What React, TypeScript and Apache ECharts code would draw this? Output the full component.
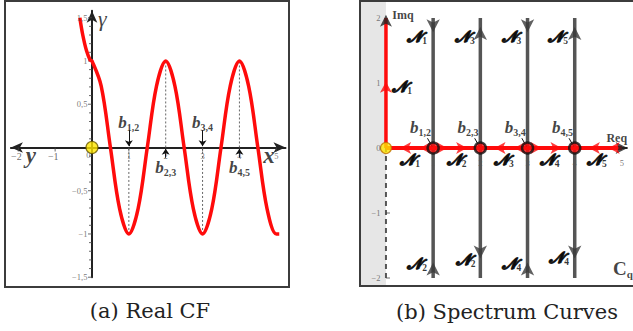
import React, { useEffect, useRef } from 'react';
import * as echarts from 'echarts';

// ---------- Panel (a): Real CF ----------
const curveX = [-0.33, -0.25, -0.15, -0.05, 0, 0.25, 0.5, 0.75, 1, 1.25, 1.5, 1.75, 2, 2.25, 2.5, 2.75, 3, 3.25, 3.5, 3.75, 4, 4.25, 4.5, 4.75, 5, 5.08];
const curveY = [1.5, 1.3, 1.12, 1.01, 1, 0.71, 0, -0.71, -1, -0.71, 0, 0.71, 1, 0.71, 0, -0.71, -1, -0.71, 0, 0.71, 1, 0.71, 0, -0.71, -1, -1];
const xTicksA = [-2, -1, 1, 2, 3, 4, 5];
const xTickLabelsA = ['−2', '−1', '1', '2', '3', '4', '5'];
const yTicksA = [1.5, 1, 0.5, -0.5, -1, -1.5];
const yTickLabelsA = ['1,5', '1', '0,5', '−0,5', '−1', '−1,5'];
const yMinorA = [1.4, 1.3, 1.2, 1.1, 0.9, 0.8, 0.7, 0.6, 0.4, 0.3, 0.2, 0.1, -0.1, -0.2, -0.3, -0.4, -0.6, -0.7, -0.8, -0.9, -1.1, -1.2, -1.3, -1.4];
const dotX = [1, 2, 3, 4];
const dotFrom = [-1, 0, -1, 0];
const dotTo = [0, 1, 0, 1];
const bNames = ['1,2', '2,3', '3,4', '4,5'];
const bArrowFrom = [0.2, -0.12, 0.2, -0.12];
const bArrowTo = [0.015, -0.015, 0.015, -0.015];
const bLabelYA = [0.29, -0.23, 0.29, -0.23];

// ---------- Panel (b): Spectrum Curves ----------
const vLineX = [1, 2, 3, 4];
const topArrowY = [1.78, 1.86, 1.78, 1.86];
const topArrowDir = ['down', 'up', 'down', 'up'];
const botArrowY = [-1.76, -1.7, -1.76, -1.7];
const botArrowDir = ['up', 'down', 'up', 'down'];
const segStart = [0, 1, 2, 3, 4];
const segDir = ['left', 'right', 'left', 'right', 'left'];
const nodeX = [1, 2, 3, 4];
const topN = ['1', '3', '3', '5'];
const topNX = [0.66, 1.67, 2.66, 3.65];
const botN = ['2', '2', '4', '4'];
const botNX = [0.66, 1.69, 2.66, 3.67];
const botNY = [-1.78, -1.71, -1.78, -1.68];
const axisN = ['1', '2', '3', '4', '5'];
const axisNX = [0.51, 1.5, 2.5, 3.47, 4.47];
const bLabelXB = [0.73, 1.74, 2.74, 3.74];
const yTicksB = [2, 1, 0, -1, -2];
const yTickLabelsB = ['2', '1', '0', '−1', '−2'];
const xTicksB = [1, 2, 3, 4, 5];

const RED = '#ff0b0b';
const SERIF = 'Liberation Serif';

const RICH: any = {
  b: { fontFamily: SERIF, fontStyle: 'italic', fontWeight: 'bold', fontSize: 17, color: '#111', lineHeight: 20 },
  bs: { fontFamily: SERIF, fontWeight: 'bold', fontSize: 10, color: '#111', verticalAlign: 'bottom', lineHeight: 12 },
  n: { fontFamily: 'DejaVu Serif', fontStyle: 'italic', fontWeight: 'bold', fontSize: 16, color: '#000', lineHeight: 19, textBorderColor: '#000', textBorderWidth: 1.1 },
  ns: { fontFamily: SERIF, fontWeight: 'bold', fontSize: 9.5, color: '#000', verticalAlign: 'bottom', lineHeight: 11 },
  g: { fontFamily: SERIF, fontStyle: 'italic', fontSize: 22, color: '#111' },
  xy: { fontFamily: SERIF, fontStyle: 'italic', fontWeight: 'bold', fontSize: 23, color: '#111' },
  lab: { fontFamily: SERIF, fontWeight: 'bold', fontSize: 12, color: '#111' },
  c: { fontFamily: SERIF, fontWeight: 'bold', fontSize: 19, color: '#111', lineHeight: 22 },
  cs: { fontFamily: SERIF, fontWeight: 'bold', fontSize: 11, color: '#111', verticalAlign: 'bottom', lineHeight: 13 },
  tk: { fontFamily: SERIF, fontSize: 10, color: '#444' },
  tks: { fontFamily: SERIF, fontSize: 8.5, color: '#555' },
};

const N = (s: string) => `{n|𝒩}{ns|${s}}`;

function seg(gi: number, coords: number[][], lineStyle: any, z = 3) {
  return { type: 'line', xAxisIndex: gi, yAxisIndex: gi, data: coords, symbol: 'none', silent: true, z, lineStyle };
}

function texts(gi: number, items: { x: number; y: number; t: string; pos?: string; dist?: number }[]) {
  return {
    type: 'scatter', xAxisIndex: gi, yAxisIndex: gi, symbolSize: 1, silent: true, z: 30,
    itemStyle: { color: 'rgba(0,0,0,0)' },
    data: items.map((it) => ({
      value: [it.x, it.y],
      label: { show: true, position: it.pos || 'inside', distance: it.dist ?? 5, formatter: it.t, rich: RICH },
    })),
  };
}

function ticks(gi: number, pts: number[][], size: number[], offset: number[]) {
  return {
    type: 'scatter', xAxisIndex: gi, yAxisIndex: gi, silent: true, z: 4, symbol: 'rect',
    symbolSize: size, symbolOffset: offset, itemStyle: { color: '#444' }, data: pts,
  };
}

const rot = (d: string) => (d === 'up' ? 0 : d === 'down' ? 180 : d === 'left' ? 90 : -90);

function buildOption(): any {
  const series: any[] = [];

  // ---- panel a ----
  dotX.forEach((x, i) => {
    series.push(seg(0, [[x, dotFrom[i]], [x, dotTo[i]]], { color: '#666', width: 1, type: [2, 2] }, 2));
  });
  series.push(ticks(0, xTicksA.map((x) => [x, 0]), [1, 4], [0, 2]));
  series.push(ticks(0, yTicksA.map((y) => [0, y]), [4, 1], [-2, 0]));
  series.push(ticks(0, yMinorA.map((y) => [0, y]), [3, 1], [-1.5, 0]));
  series.push({
    type: 'line', xAxisIndex: 0, yAxisIndex: 0, smooth: 0.35, symbol: 'none', silent: true, z: 5,
    lineStyle: { color: RED, width: 3.5 },
    data: curveX.map((x, i) => [x, curveY[i]]),
  });
  series.push({
    type: 'lines', coordinateSystem: 'cartesian2d', xAxisIndex: 0, yAxisIndex: 0, silent: true, z: 6,
    symbol: ['none', 'arrow'], symbolSize: 6,
    lineStyle: { color: '#111', width: 1, opacity: 1 },
    data: dotX.map((x, i) => ({ coords: [[x, bArrowFrom[i]], [x, bArrowTo[i]]] })),
  });
  series.push({
    type: 'scatter', xAxisIndex: 0, yAxisIndex: 0, silent: true, z: 10, symbol: 'circle', symbolSize: 12,
    itemStyle: { color: '#ffe600', borderColor: '#6a5a00', borderWidth: 1.2 },
    data: [[0, 0]],
  });
  series.push(texts(0, [
    { x: 0.28, y: 1.49, t: '{g|γ}' },
    { x: 4.8, y: -0.09, t: '{xy|x}' },
    { x: -1.66, y: -0.09, t: '{xy|y}' },
    ...dotX.map((x, i) => ({ x, y: bLabelYA[i], t: `{b|b}{bs|${bNames[i]}}` })),
    ...xTicksA.map((x, i) => ({ x: x < 0 ? x - 0.05 : x, y: 0, t: x < 0 ? `{tk|${xTickLabelsA[i]}}` : `{tks|${xTickLabelsA[i]}}`, pos: 'bottom', dist: 4 })),
    { x: -0.1, y: 0, t: '{tks|0}', pos: 'bottom', dist: 3 },
    ...yTicksA.map((y, i) => ({ x: 0, y, t: `{tks|${yTickLabelsA[i]}}`, pos: 'left', dist: 4 })),
  ]));

  // ---- panel b ----
  series.push({
    type: 'line', xAxisIndex: 1, yAxisIndex: 1, data: [], silent: true,
    markArea: { silent: true, itemStyle: { color: '#e6e6e6' }, data: [[{ coord: [-0.55, -2.12] }, { coord: [0, 2.25] }]] },
  });
  vLineX.forEach((x) => {
    series.push(seg(1, [[x, -2], [x, 2]], { color: '#555', width: 3.5 }, 3));
  });
  series.push({
    type: 'scatter', xAxisIndex: 1, yAxisIndex: 1, silent: true, z: 4, symbol: 'arrow', symbolSize: [10, 13],
    itemStyle: { color: '#3a3a3a' },
    data: [
      ...vLineX.map((x, i) => ({ value: [x, topArrowY[i]], symbolRotate: rot(topArrowDir[i]) })),
      ...vLineX.map((x, i) => ({ value: [x, botArrowY[i]], symbolRotate: rot(botArrowDir[i]) })),
    ],
  });
  // axes of panel b
  series.push(seg(1, [[0, -2], [0, 0]], { color: '#555', width: 2, type: [5, 4] }, 3));
  series.push(ticks(1, [[0, -1], [0, -2]], [4, 1], [2, 0]));
  series.push(seg(1, [[0, 0], [5.12, 0]], { color: '#222', width: 2 }, 3));
  series.push({
    type: 'scatter', xAxisIndex: 1, yAxisIndex: 1, silent: true, z: 6, symbol: 'arrow', symbolSize: [9, 12],
    itemStyle: { color: '#222' },
    data: [{ value: [5.12, 0], symbolRotate: -90 }, { value: [0, 2.05], symbolRotate: 0 }],
  });
  series.push(seg(1, [[0, 0], [0, 2.0]], { color: RED, width: 3.5 }, 5));
  series.push(seg(1, [[0, 0], [5.0, 0]], { color: RED, width: 4 }, 5));
  series.push({
    type: 'scatter', xAxisIndex: 1, yAxisIndex: 1, silent: true, z: 6, symbol: 'arrow', symbolSize: [9, 11],
    itemStyle: { color: RED },
    data: [
      ...segStart.flatMap((s, i) => [
        { value: [s + 0.3, 0], symbolRotate: rot(segDir[i]) },
        { value: [s + 0.72, 0], symbolRotate: rot(segDir[i]) },
      ]),
      { value: [0, 1.02], symbolRotate: 0 },
    ],
  });
  series.push({
    type: 'lines', coordinateSystem: 'cartesian2d', xAxisIndex: 1, yAxisIndex: 1, silent: true, z: 6,
    symbol: 'none', lineStyle: { color: '#111', width: 1, opacity: 1 },
    data: nodeX.map((x) => ({ coords: [[x - 0.12, 0.15], [x - 0.02, 0.02]] })),
  });
  series.push({
    type: 'scatter', xAxisIndex: 1, yAxisIndex: 1, silent: true, z: 8, symbol: 'circle', symbolSize: 11,
    itemStyle: { color: RED, borderColor: '#111', borderWidth: 2.5 },
    data: nodeX.map((x) => [x, 0]),
  });
  series.push({
    type: 'scatter', xAxisIndex: 1, yAxisIndex: 1, silent: true, z: 9, symbol: 'circle', symbolSize: 11,
    itemStyle: { color: '#ffe600', borderColor: '#c07000', borderWidth: 1.2 },
    data: [[0, 0]],
  });
  series.push(texts(1, [
    { x: 0.36, y: 2.05, t: '{lab|Imq}' },
    { x: 4.89, y: 0.16, t: '{lab|Req}' },
    { x: 5.02, y: -1.86, t: '{c|C}{cs|q}' },
    { x: 0.34, y: 0.94, t: N('1') },
    ...topN.map((s, i) => ({ x: topNX[i], y: 1.72, t: N(s) })),
    ...botN.map((s, i) => ({ x: botNX[i], y: botNY[i], t: N(s) })),
    ...axisN.map((s, i) => ({ x: axisNX[i], y: -0.17, t: N(s) })),
    ...bLabelXB.map((x, i) => ({ x, y: 0.31, t: `{b|b}{bs|${bNames[i]}}` })),
    ...yTicksB.map((y, i) => ({ x: 0, y, t: `{tks|${yTickLabelsB[i]}}`, pos: 'left', dist: 5 })),
    ...xTicksB.map((x) => ({ x, y: 0, t: `{tks|${x}}`, pos: 'bottom', dist: 10 })),
  ]));

  const hiddenAxis = { type: 'value', splitLine: { show: false }, axisLine: { show: false }, axisTick: { show: false }, axisLabel: { show: false } };

  return {
    animation: false,
    backgroundColor: '#ffffff',
    grid: [
      { left: 10.9, top: 10.8, width: 274.6, height: 266.4 },
      { left: 360, top: 1.75, width: 272.3, height: 284.05 },
    ],
    xAxis: [
      {
        ...hiddenAxis, gridIndex: 0, min: -2.2, max: 5.25,
        axisLine: { show: true, onZero: true, symbol: ['arrow', 'arrow'], symbolSize: [8, 12], lineStyle: { color: '#222', width: 2 } },
      },
      { ...hiddenAxis, gridIndex: 1, min: -0.55, max: 5.22 },
    ],
    yAxis: [
      {
        ...hiddenAxis, gridIndex: 0, min: -1.5, max: 1.58,
        axisLine: { show: true, onZero: true, symbol: ['none', 'arrow'], symbolSize: [8, 12], lineStyle: { color: '#222', width: 2 } },
      },
      { ...hiddenAxis, gridIndex: 1, min: -2.12, max: 2.25 },
    ],
    graphic: [
      { type: 'rect', z: 100, silent: true, shape: { x: 5, y: 1, width: 284, height: 286 }, style: { fill: 'none', stroke: '#3c3c3c', lineWidth: 2 } },
      { type: 'rect', z: 100, silent: true, shape: { x: 360, y: 1, width: 290, height: 285 }, style: { fill: 'none', stroke: '#3c3c3c', lineWidth: 2 } },
      { type: 'text', z: 100, silent: true, x: 150, y: 311, style: { text: '(a) Real CF', fontSize: 21, fontFamily: 'DejaVu Serif', fill: '#222', align: 'center', verticalAlign: 'middle' } },
      { type: 'text', z: 100, silent: true, x: 507, y: 312, style: { text: '(b) Spectrum Curves', fontSize: 21, fontFamily: 'DejaVu Serif', fill: '#222', align: 'center', verticalAlign: 'middle' } },
    ],
    series,
  };
}

export default function App() {
  const ref = useRef<HTMLDivElement>(null);
  useEffect(() => {
    if (!ref.current) return;
    const chart = echarts.init(ref.current, null, { renderer: 'svg' });
    chart.setOption(buildOption());
    return () => chart.dispose();
  }, []);
  return <div ref={ref} style={{ position: 'fixed', left: 0, top: 0, width: 633, height: 331 }} />;
}
